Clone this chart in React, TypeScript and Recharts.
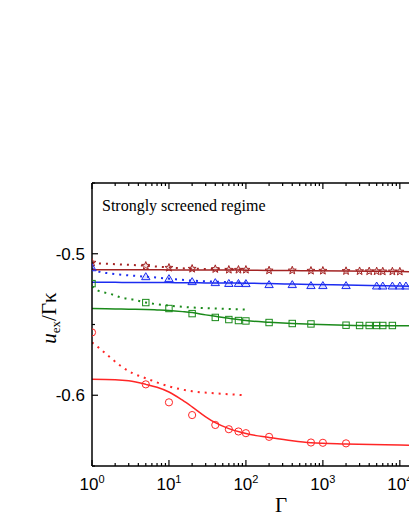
import { ComposedChart, Line, Scatter, XAxis, YAxis, ReferenceLine, Customized } from "recharts";

// colours of the four screening series
const WINE = "#a32424";
const BLUE = "#1c2cf0";
const GREEN = "#1a8a1a";
const RED = "#ff2626";

// simulation points (Gamma, u_ex / Gamma kappa)
const starG = [1, 5, 10, 20, 40, 60, 80, 100, 200, 400, 700, 1000, 2000, 3000, 4000, 5000, 6000, 8000, 10000];
const starV = [-0.5063, -0.5085, -0.5099, -0.5106, -0.5108, -0.5113, -0.5113, -0.5113, -0.5118, -0.5118, -0.512, -0.512, -0.5122, -0.5123, -0.5124, -0.5124, -0.5125, -0.5125, -0.5126];

const triG = [1, 5, 10, 20, 40, 60, 80, 100, 200, 400, 700, 1000, 2000, 5000, 6000, 8000, 10000, 12000];
const triV = [-0.5099, -0.5162, -0.5176, -0.5197, -0.5204, -0.521, -0.521, -0.5211, -0.5218, -0.5218, -0.5225, -0.5225, -0.5225, -0.5228, -0.5228, -0.5228, -0.5228, -0.5228];

const sqG = [1, 5, 10, 20, 40, 60, 80, 100, 200, 400, 700, 2000, 3000, 4000, 5000, 6000, 8000];
const sqV = [-0.5211, -0.5345, -0.5387, -0.5423, -0.545, -0.5465, -0.5472, -0.5475, -0.5486, -0.5493, -0.5496, -0.5505, -0.5507, -0.5507, -0.5507, -0.5507, -0.5507];

const cirG = [1, 5, 10, 20, 40, 60, 80, 100, 200, 700, 1000, 2000];
const cirV = [-0.5556, -0.5923, -0.605, -0.614, -0.621, -0.624, -0.6256, -0.6268, -0.6294, -0.6334, -0.6336, -0.634];

// fitted curves (solid)
const fitG = [1, 2, 3, 5, 7, 10, 15, 20, 30, 40, 60, 100, 200, 400, 700, 2000, 10000, 20000];
const fitStar = [-0.5113, -0.5113, -0.5113, -0.5113, -0.5113, -0.5114, -0.5114, -0.5114, -0.5115, -0.5115, -0.5115, -0.5116, -0.5118, -0.5119, -0.512, -0.5122, -0.5126, -0.5127];
const fitTri = [-0.5202, -0.5202, -0.5203, -0.5203, -0.5204, -0.5204, -0.5205, -0.5205, -0.5206, -0.5206, -0.5207, -0.5208, -0.5211, -0.5214, -0.5217, -0.5221, -0.5228, -0.523];
const fitSq = [-0.5387, -0.539, -0.5392, -0.5394, -0.5397, -0.5401, -0.5409, -0.5416, -0.5432, -0.5442, -0.5456, -0.5472, -0.5484, -0.5493, -0.5498, -0.5505, -0.5509, -0.551];
const fitCir = [-0.5887, -0.589, -0.5898, -0.5923, -0.5944, -0.5977, -0.6035, -0.6082, -0.6152, -0.6194, -0.6236, -0.6271, -0.6298, -0.6322, -0.6336, -0.6345, -0.6352, -0.6353];

// low-Gamma approximation (dotted), up to Gamma = 100
const dotG = [1, 1.2, 1.7, 2.4, 3.4, 5, 10, 20, 40, 100];
const dotStar = [-0.5063, -0.5068, -0.5072, -0.5076, -0.508, -0.5085, -0.5097, -0.5106, -0.5108, -0.5113];
const dotTri = [-0.5106, -0.5125, -0.5139, -0.5148, -0.5155, -0.5162, -0.5176, -0.519, -0.5197, -0.5204];
const dotSq = [-0.523, -0.5261, -0.5282, -0.531, -0.5324, -0.5345, -0.5366, -0.538, -0.5387, -0.5394];
const dotCir = [-0.5627, -0.566, -0.573, -0.5796, -0.5845, -0.588, -0.5937, -0.5972, -0.5986, -0.6];

const decades = [1, 10, 100, 1000, 10000];
const decadeExp = ["0", "1", "2", "3", "4"];
const yTicks = [-0.65, -0.6, -0.55, -0.5, -0.45];
const yLabels: Record<string, string> = { "-0.6": "-0.6", "-0.5": "-0.5" };

const X_MAX = 20000;
const xTicks: number[] = [];
for (let e = 0; e <= 4; e++) {
  for (let m = 1; m <= 9; m++) {
    const t = m * Math.pow(10, e);
    if (t <= X_MAX) xTicks.push(t);
  }
}

const zip = (g: number[], v: number[]) => g.map((x, i) => ({ g: x, v: v[i] }));

const PLOT_H = 283;
const SANS = "'Liberation Sans', Arial, sans-serif";
const SERIF = "'Liberation Serif', 'Times New Roman', serif";

function XTick(props: any) {
  const { x, y, payload } = props;
  const idx = decades.indexOf(payload.value);
  const major = idx >= 0;
  const len = major ? 6 : 3;
  return (
    <g>
      <line x1={x} x2={x} y1={y} y2={y - len} stroke="#000" strokeWidth={1.2} />
      <line x1={x} x2={x} y1={y - PLOT_H} y2={y - PLOT_H + len} stroke="#000" strokeWidth={1.2} />
      {major && (
        <text x={x} y={y + 24} textAnchor="middle" fontFamily={SANS} fontSize={17} fill="#000">
          <tspan>10</tspan>
          <tspan dy={-7} fontSize={11}>{decadeExp[idx]}</tspan>
        </text>
      )}
    </g>
  );
}

function YTick(props: any) {
  const { x, y, payload } = props;
  const label = yLabels[String(payload.value)];
  return (
    <g>
      <line x1={x} x2={x + (label ? 6 : 3)} y1={y} y2={y} stroke="#000" strokeWidth={1.2} />
      {label && (
        <text x={x - 7} y={y + 6} textAnchor="end" fontFamily={SANS} fontSize={17} fill="#000">
          {label}
        </text>
      )}
    </g>
  );
}

const circleShape = (p: any) => <circle cx={p.cx} cy={p.cy} r={3.6} fill="none" stroke={RED} strokeWidth={1} />;
const squareShape = (p: any) => (
  <rect x={p.cx - 3.2} y={p.cy - 3.2} width={6.4} height={6.4} fill="none" stroke={GREEN} strokeWidth={1} />
);
const triShape = (p: any) => (
  <path
    d={`M${p.cx},${p.cy - 4} L${p.cx + 4.2},${p.cy + 3} L${p.cx - 4.2},${p.cy + 3} Z`}
    fill={BLUE}
    fillOpacity={0.15}
    stroke={BLUE}
    strokeWidth={1}
  />
);
const starShape = (p: any) => {
  const pts: string[] = [];
  for (let i = 0; i < 10; i++) {
    const r = i % 2 === 0 ? 4.2 : 1.8;
    const a = -Math.PI / 2 + (i * Math.PI) / 5;
    pts.push(`${p.cx + r * Math.cos(a)},${p.cy + r * Math.sin(a)}`);
  }
  return <polygon points={pts.join(" ")} fill={WINE} fillOpacity={0.15} stroke={WINE} strokeWidth={1} />;
};

function Texts() {
  return (
    <g>
      <text x={102} y={211} fontFamily={SERIF} fontSize={16} fill="#000">
        Strongly screened regime
      </text>
      <text x={281} y={512} textAnchor="middle" fontFamily={SERIF} fontSize={21} fill="#000">
        Γ
      </text>
      <text
        x={56}
        y={318}
        transform="rotate(-90, 56, 318)"
        textAnchor="middle"
        fontFamily={SERIF}
        fontSize={21}
        fill="#000"
      >
        <tspan fontStyle="italic">u</tspan>
        <tspan fontSize={13} dy={4}>ex</tspan>
        <tspan dy={-4}>/Γκ</tspan>
      </text>
    </g>
  );
}

export default function App() {
  const dotted = "2 5";
  return (
    <div style={{ position: "fixed", left: 0, top: 0, width: 409, height: 529, overflow: "hidden", background: "#fff" }}>
      <ComposedChart width={440} height={529} margin={{ top: 183, right: 17, bottom: 0, left: 0 }}>
        <XAxis
          dataKey="g"
          type="number"
          scale="log"
          domain={[1, X_MAX]}
          allowDataOverflow
          ticks={xTicks}
          interval={0}
          tickSize={0}
          tickMargin={0}
          tick={<XTick />}
          axisLine={{ stroke: "#000", strokeWidth: 1.5 }}
          height={63}
        />
        <YAxis
          dataKey="v"
          type="number"
          domain={[-0.65, -0.45]}
          allowDataOverflow
          ticks={yTicks}
          interval={0}
          tickSize={0}
          tickMargin={0}
          tick={<YTick />}
          axisLine={{ stroke: "#000", strokeWidth: 1.5 }}
          width={92}
        />
        <ReferenceLine y={-0.45} stroke="#000" strokeWidth={1.5} />

        <Line data={zip(dotG, dotStar)} dataKey="v" type="monotone" stroke={WINE} strokeWidth={2} strokeDasharray={dotted} dot={false} activeDot={false} isAnimationActive={false} />
        <Line data={zip(dotG, dotTri)} dataKey="v" type="monotone" stroke={BLUE} strokeWidth={2} strokeDasharray={dotted} dot={false} activeDot={false} isAnimationActive={false} />
        <Line data={zip(dotG, dotSq)} dataKey="v" type="monotone" stroke={GREEN} strokeWidth={2} strokeDasharray={dotted} dot={false} activeDot={false} isAnimationActive={false} />
        <Line data={zip(dotG, dotCir)} dataKey="v" type="monotone" stroke={RED} strokeWidth={2} strokeDasharray={dotted} dot={false} activeDot={false} isAnimationActive={false} />

        <Line data={zip(fitG, fitStar)} dataKey="v" type="monotone" stroke={WINE} strokeWidth={1.5} dot={false} activeDot={false} isAnimationActive={false} />
        <Line data={zip(fitG, fitTri)} dataKey="v" type="monotone" stroke={BLUE} strokeWidth={1.5} dot={false} activeDot={false} isAnimationActive={false} />
        <Line data={zip(fitG, fitSq)} dataKey="v" type="monotone" stroke={GREEN} strokeWidth={1.5} dot={false} activeDot={false} isAnimationActive={false} />
        <Line data={zip(fitG, fitCir)} dataKey="v" type="monotone" stroke={RED} strokeWidth={1.5} dot={false} activeDot={false} isAnimationActive={false} />

        <Scatter data={zip(starG, starV)} shape={starShape} isAnimationActive={false} />
        <Scatter data={zip(triG, triV)} shape={triShape} isAnimationActive={false} />
        <Scatter data={zip(sqG, sqV)} shape={squareShape} isAnimationActive={false} />
        <Scatter data={zip(cirG, cirV)} shape={circleShape} isAnimationActive={false} />

        <Customized component={<Texts />} />
      </ComposedChart>
    </div>
  );
}
